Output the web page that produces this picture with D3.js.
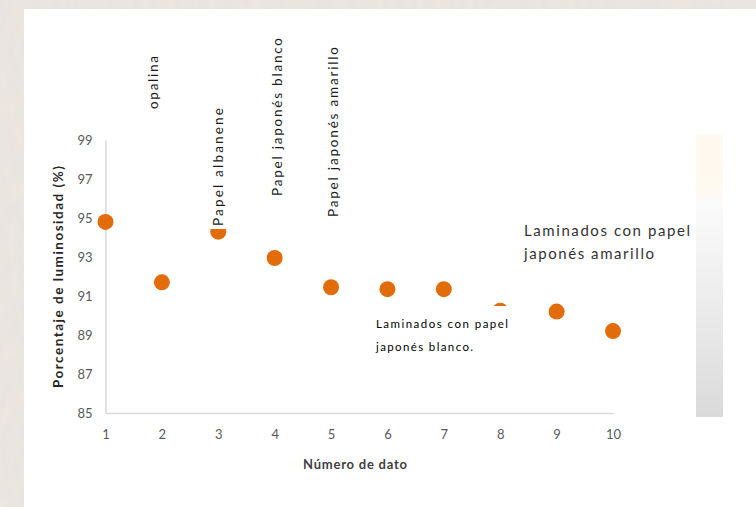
<!DOCTYPE html>
<html>
<head>
<meta charset="utf-8">
<script src="https://cdn.jsdelivr.net/npm/d3@7"></script>
<style>
  html, body { margin: 0; padding: 0; background: #e8e1da; }
  svg { display: block; }
</style>
</head>
<body>
<svg id="chart" width="756" height="507"></svg>
<script>
// ---- data ----
const datos = [1, 2, 3, 4, 5, 6, 7, 8, 9, 10];
const luminosidad = [94.8, 91.7, 94.3, 92.95, 91.45, 91.35, 91.35, 90.25, 90.2, 89.2];
const yTicks = [85, 87, 89, 91, 93, 95, 97, 99];
const xTicks = [1, 2, 3, 4, 5, 6, 7, 8, 9, 10];
const rotLabels = ["opalina", "Papel albanene", "Papel japonés blanco", "Papel japonés amarillo"];
const rotLabelX = [2, 3, 4, 5];
const notaAmarillo = ["Laminados con papel", "japonés amarillo"];
const notaBlanco = ["Laminados con papel", "japonés blanco."];

const svg = d3.select("#chart");
const W = 756, H = 507;

// textured background
const defs = svg.append("defs");
const f = defs.append("filter").attr("id", "marble").attr("x", 0).attr("y", 0).attr("width", "100%").attr("height", "100%");
f.append("feTurbulence").attr("type", "fractalNoise").attr("baseFrequency", "0.12 0.05").attr("numOctaves", 3).attr("seed", 4).attr("result", "n");
f.append("feColorMatrix").attr("type", "matrix")
  .attr("values", "0 0 0 0 0.80  0 0 0 0 0.77  0 0 0 0 0.74  0 0 0 -1.6 1.2");
svg.append("rect").attr("width", W).attr("height", H).attr("fill", "#ece6df");
svg.append("rect").attr("width", W).attr("height", H).attr("filter", "url(#marble)");

// white panel
svg.append("rect").attr("x", 24).attr("y", 9).attr("width", W - 24).attr("height", H - 9).attr("fill", "#ffffff");

// gradient side bar
const g = defs.append("linearGradient").attr("id", "bar").attr("x1", 0).attr("y1", 0).attr("x2", 0).attr("y2", 1);
g.append("stop").attr("offset", "0%").attr("stop-color", "#fffaf0");
g.append("stop").attr("offset", "18%").attr("stop-color", "#fff9ee");
g.append("stop").attr("offset", "24%").attr("stop-color", "#fbfbfb");
g.append("stop").attr("offset", "100%").attr("stop-color", "#dadada");
svg.append("rect").attr("x", 696).attr("y", 135).attr("width", 27).attr("height", 282).attr("fill", "url(#bar)");

// scales
const x = d3.scaleLinear().domain([1, 10]).range([105.5, 613]);
const y = d3.scaleLinear().domain([85, 99]).range([413, 140]);

const font = "Lato, 'Open Sans', sans-serif";

// axes
const xAxis = d3.axisBottom(x).tickValues(xTicks).tickSize(0).tickPadding(17).tickFormat(d3.format("d"));
const gx = svg.append("g").attr("transform", `translate(0,${y(85)})`).call(xAxis);
gx.select(".domain").attr("stroke", "#d9d9d9").attr("stroke-width", 1.5);
gx.selectAll("text").attr("fill", "#595959").attr("font-family", font).attr("font-size", 13);

const yAxis = d3.axisLeft(y).tickValues(yTicks).tickSize(0).tickPadding(13);
const gy = svg.append("g").attr("transform", `translate(${x(1)},0)`).call(yAxis);
gy.select(".domain").attr("stroke", "#d9d9d9").attr("stroke-width", 1.5);
gy.selectAll("text").attr("fill", "#595959").attr("font-family", font).attr("font-size", 13);
gx.raise();

// axis titles
svg.append("text").attr("x", 355).attr("y", 469).attr("text-anchor", "middle")
  .attr("font-family", font).attr("font-weight", "bold").attr("font-size", 13).attr("fill", "#404040")
  .attr("textLength", 104).attr("lengthAdjust", "spacing")
  .text("Número de dato");
svg.append("text").attr("transform", "translate(63,277) rotate(-90)").attr("text-anchor", "middle")
  .attr("font-family", font).attr("font-weight", "bold").attr("font-size", 13.5).attr("fill", "#262626")
  .attr("textLength", 222).attr("lengthAdjust", "spacing")
  .text("Porcentaje de luminosidad (%)");

// points
svg.append("g").selectAll("circle").data(datos).join("circle")
  .attr("cx", d => x(d)).attr("cy", (d, i) => y(luminosidad[i])).attr("r", 8)
  .attr("fill", "#e36c0a");

// rotated labels (with white boxes)
const rotBottoms = [109, 226, 196, 217];
const rotDx = [-4, 5, 7, 7];
const rotLen = [53, 118, 158, 170];
rotLabels.forEach((t, i) => {
  const cx = x(rotLabelX[i]) + rotDx[i];
  const gl = svg.append("g").attr("transform", `translate(${cx},${rotBottoms[i]}) rotate(-90)`);
  const txt = gl.append("text").attr("x", 0).attr("y", 0)
    .attr("font-family", font).attr("font-size", 13.5).attr("fill", "#1a1a1a")
    .attr("textLength", rotLen[i]).attr("lengthAdjust", "spacing").text(t);
  const bb = txt.node().getBBox();
  gl.insert("rect", "text").attr("x", bb.x - 3).attr("y", bb.y - 2).attr("width", bb.width + 6).attr("height", bb.height + 4).attr("fill", "#fff");
});

// note labels
const nb = svg.append("g");
nb.append("rect").attr("x", 372).attr("y", 306).attr("width", 160).attr("height", 50).attr("fill", "#fff");
nb.selectAll("text").data(notaBlanco).join("text")
  .attr("x", 376).attr("y", (d, i) => 328 + i * 23)
  .attr("font-family", font).attr("font-size", 11.5).attr("fill", "#000")
  .attr("textLength", (d, i) => i === 0 ? 132 : 97).attr("lengthAdjust", "spacing")
  .text(d => d);

svg.append("g").selectAll("text").data(notaAmarillo).join("text")
  .attr("x", 524).attr("y", (d, i) => 236 + i * 23)
  .attr("font-family", font).attr("font-size", 15).attr("fill", "#333")
  .attr("textLength", (d, i) => i === 0 ? 166 : 130).attr("lengthAdjust", "spacing")
  .text(d => d);
</script>
</body>
</html>
